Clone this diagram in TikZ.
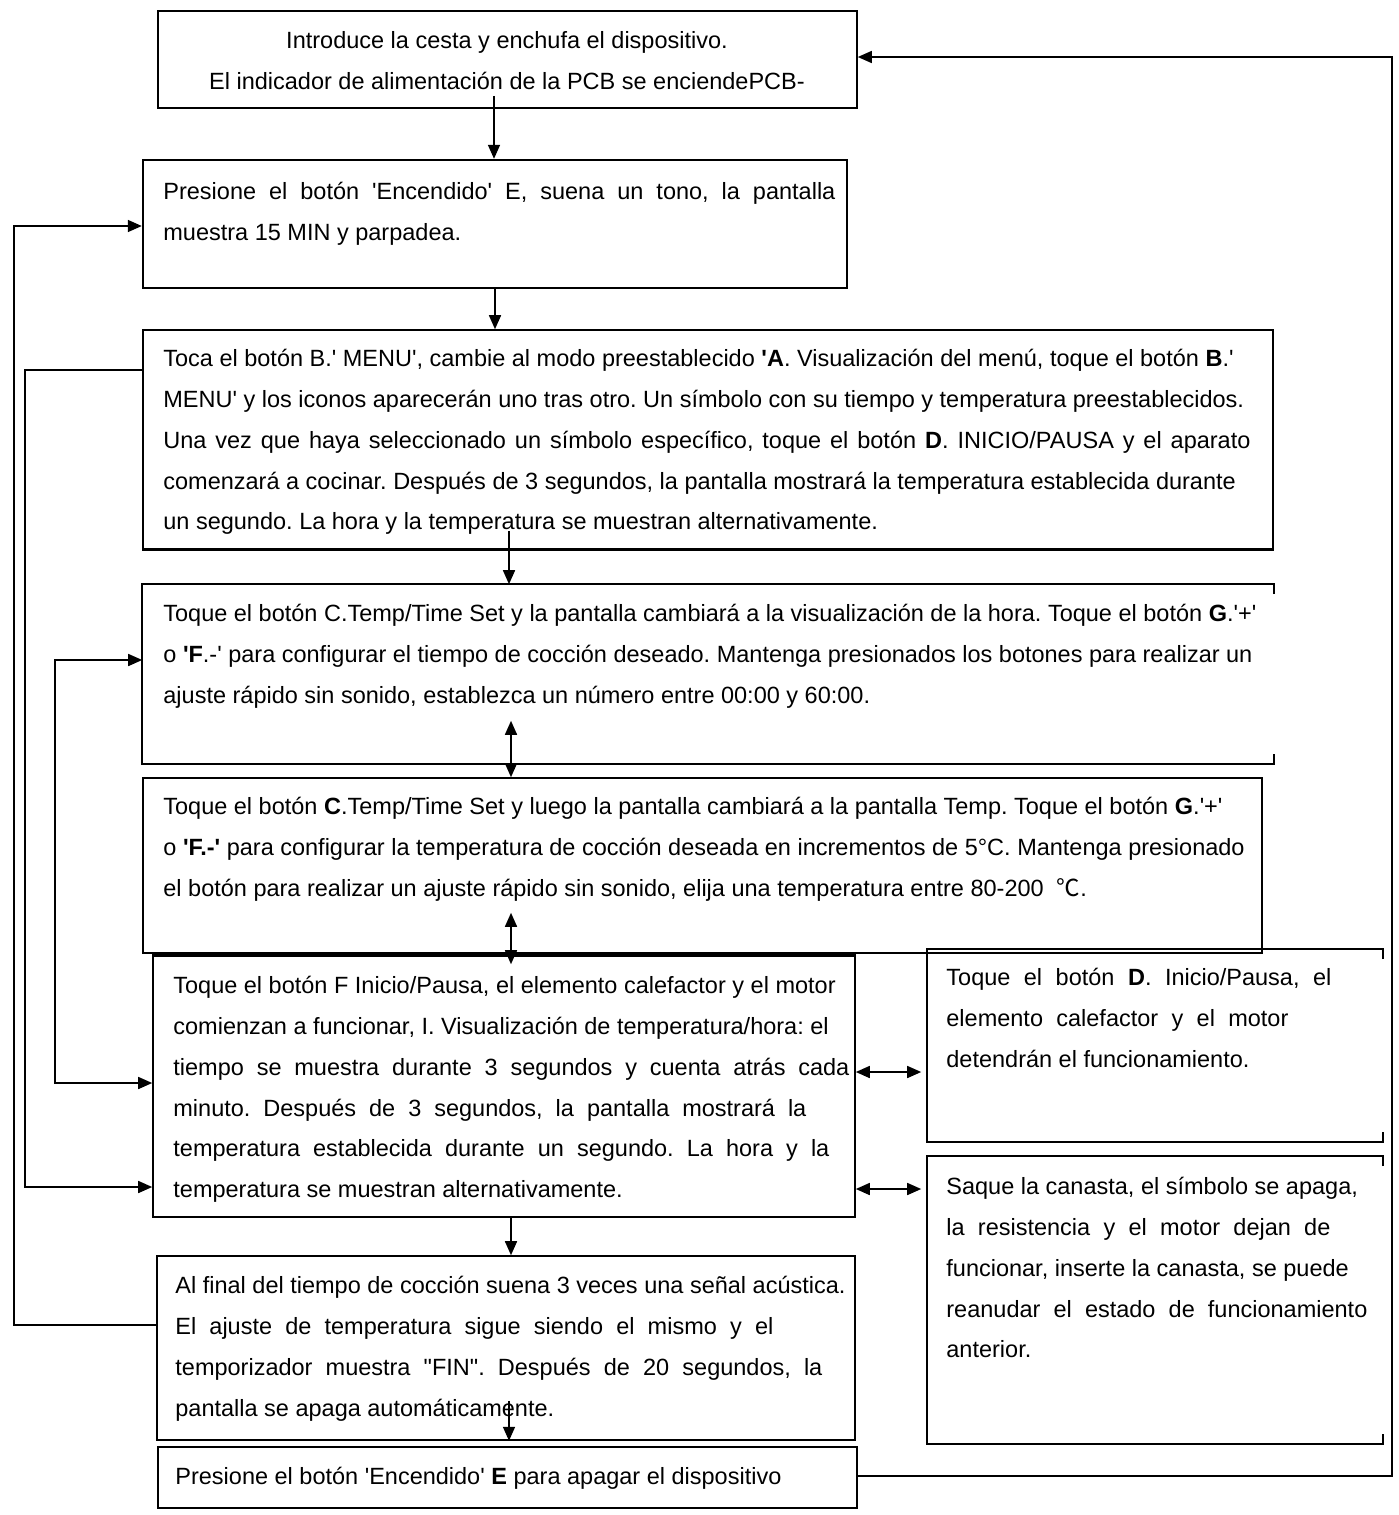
\documentclass[tikz,border=0pt]{standalone}
\usepackage{fontspec}
\setmainfont{Liberation Sans}[Ligatures=TeXOff]
\newfontfamily\cjk{Noto Sans CJK SC}
\usetikzlibrary{arrows.meta,calc,fit}
\frenchspacing
\newcommand{\jl}[2]{\makebox[#1][s]{#2}}
\tikzset{
  frame/.style={draw, line width=0.8pt, inner sep=0pt},
  txt/.style={anchor=north west, inner sep=0pt, align=left, font=\fontsize{11.75}{20.4}\selectfont},
  arr/.style={line width=0.8pt, -{Triangle[length=7pt,width=6pt]}},
  arr2/.style={line width=0.8pt, {Triangle[length=7pt,width=6pt]}-{Triangle[length=7pt,width=6pt]}},
}
\begin{document}
\begin{tikzpicture}[x=0.5pt,y=-0.5pt]
				\useasboundingbox (0,0) rectangle (1398,1515);
				
				\node[frame, fit={(158,11) (857,108)}] (intro) {};
				\node[frame, line width=1.2pt, fit={(143,160) (847,288)}] (power) {};
				\node[frame, fit={(143,330) (1273,549)}] (menu) {};
				\node[frame, draw=none, fit={(143,585) (1273,763)}] (timeset) {};
				\node[frame, fit={(143,778) (1262,953)}] (tempset) {};
				\node[frame, fit={(153,956) (855,1217)}] (cook) {};
				\node[frame, fit={(157,1256) (855,1440)}] (finish) {};
				\node[frame, fit={(158,1447) (857,1508)}] (off) {};
				\node[frame, draw=none, fit={(928,950) (1382,1141)}] (stop) {};
				\node[frame, draw=none, fit={(928,1157) (1382,1443)}] (basket) {};
				
				\foreach \b in {timeset,stop,basket}
					\draw[line width=0.8pt] ([yshift=-5pt]\b.north east) -- (\b.north east) -- (\b.north west) -- (\b.south west) -- (\b.south east) -- ([yshift=5pt]\b.south east);
				\draw[line width=2pt] (cook.north west) -- (cook.north east);
				\draw[line width=1.3pt] (menu.south west) -- (menu.south east);
				\draw[line width=1.3pt] (stop.south west) -- (stop.south east);
				\draw[line width=1.3pt] (basket.south west) -- (basket.south east);
				
				\node[txt, anchor=north, align=center] (t1) at (507,31) {Introduce la cesta y enchufa el dispositivo.\\El indicador de alimentación de la PCB se enciendePCB-};
				\node[txt] (t2) at (163,182) {\jl{336pt}{Presione el botón 'Encendido' E, suena un tono, la pantalla}\\muestra 15 MIN y parpadea.};
				\node[txt] (t3) at (163,349) {Toca el botón B.' MENU', cambie al modo preestablecido \textbf{'A}. Visualización del menú, toque el botón \textbf{B}.'\\MENU' y los iconos aparecerán uno tras otro. Un símbolo con su tiempo y temperatura preestablecidos.\\\jl{543.5pt}{Una vez que haya seleccionado un símbolo específico, toque el botón \textbf{D}. INICIO/PAUSA y el aparato}\\comenzará a cocinar. Después de 3 segundos, la pantalla mostrará la temperatura establecida durante\\un segundo. La hora y la temperatura se muestran alternativamente.};
				\node[txt] (t4) at (163,604) {Toque el botón C.Temp/Time Set y la pantalla cambiará a la visualización de la hora. Toque el botón \textbf{G}.'+'\\o \textbf{'F}.-' para configurar el tiempo de cocción deseado. Mantenga presionados los botones para realizar un\\ajuste rápido sin sonido, establezca un número entre 00:00 y 60:00.};
				\node[txt] (t5) at (163,797) {Toque el botón \textbf{C}.Temp/Time Set y luego la pantalla cambiará a la pantalla Temp. Toque el botón \textbf{G}.'+'\\o \textbf{'F.-'} para configurar la temperatura de cocción deseada en incrementos de 5°C. Mantenga presionado\\el botón para realizar un ajuste rápido sin sonido, elija una temperatura entre 80-200 \ {\cjk ℃}.};
				\node[txt] (t6) at (173,976) {Toque el botón F Inicio/Pausa, el elemento calefactor y el motor\\comienzan a funcionar, I. Visualización de temperatura/hora: el\\\jl{338pt}{tiempo se muestra durante 3 segundos y cuenta atrás cada}\\\jl{316.5pt}{minuto. Después de 3 segundos, la pantalla mostrará la}\\\jl{328pt}{temperatura establecida durante un segundo. La hora y la}\\temperatura se muestran alternativamente.};
				\node[txt] (t7) at (175,1276) {Al final del tiempo de cocción suena 3 veces una señal acústica.\\\jl{299pt}{El ajuste de temperatura sigue siendo el mismo y el}\\\jl{323.5pt}{temporizador muestra "FIN". Después de 20 segundos, la}\\pantalla se apaga automáticamente.};
				\node[txt] (t8) at (175,1467) {Presione el botón 'Encendido' \textbf{E} para apagar el dispositivo};
				\node[txt] (t9) at (946,968) {\jl{192.5pt}{Toque el botón \textbf{D}. Inicio/Pausa, el}\\\jl{171pt}{elemento calefactor y el motor}\\detendrán el funcionamiento.};
				\node[txt] (t10) at (946,1177) {Saque la canasta, el símbolo se apaga,\\\jl{192pt}{la resistencia y el motor dejan de}\\funcionar, inserte la canasta, se puede\\\jl{210.5pt}{reanudar el estado de funcionamiento}\\anterior.};
				
				\coordinate (xa) at (494,0);
				\coordinate (xb) at (509,0);
				\coordinate (xc) at (511,0);
				\draw[arr] ($(intro.south -| xa)+(0,-13)$) -- (power.north -| xa);
				\draw[arr] (power.south) -- (menu.north -| power.south);
				\draw[arr] ($(menu.south -| xb)+(0,-19)$) -- (timeset.north -| xb);
				\draw[arr2] ($(timeset.south -| xc)+(0,-43)$) -- (tempset.north -| xc);
				\draw[arr2] ($(tempset.south -| xc)+(0,-41)$) -- ($(cook.north -| xc)+(0,9)$);
				\draw[arr] (cook.south -| xc) -- (finish.north -| xc);
				\draw[arr] ($(finish.south -| xb)+(0,-40)$) -- (finish.south -| xb);
				
				\coordinate (la) at (55,660);
				\coordinate (lb) at (55,1083);
				\draw[arr2] (timeset.west |- la) -- (la) -- (lb) -- (cook.west |- lb);
				\coordinate (lc) at (25,370);
				\coordinate (ld) at (25,1187);
				\draw[arr] (menu.west |- lc) -- (lc) -- (ld) -- (cook.west |- ld);
				\coordinate (le) at (14,1325);
				\coordinate (lf) at (14,226);
				\draw[arr] (finish.west |- le) -- (le) -- (lf) -- (power.west |- lf);
				\coordinate (ra) at (1392,1476);
				\coordinate (rb) at (1392,57);
				\draw[arr] (off.east |- ra) -- (ra) -- (rb) -- (intro.east |- rb);
				
				\coordinate (ya) at (0,1072);
				\coordinate (yb) at (0,1189);
				\draw[arr2] (cook.east |- ya) -- ($(stop.west |- ya)+(-6,0)$);
				\draw[arr2] (cook.east |- yb) -- ($(basket.west |- yb)+(-6,0)$);
\end{tikzpicture}
\end{document}
